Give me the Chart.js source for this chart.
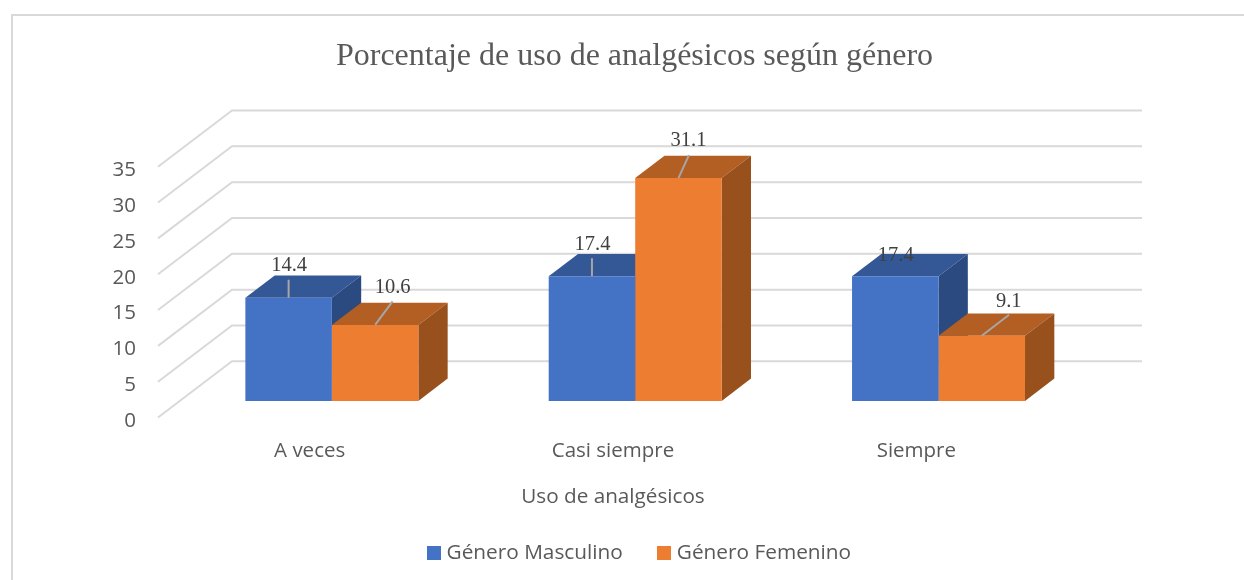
<!DOCTYPE html>
<html><head><meta charset="utf-8">
<style>html,body{margin:0;padding:0;background:#fff}canvas{display:block}</style>
<script src="https://cdn.jsdelivr.net/npm/chart.js@4/dist/chart.umd.min.js"></script>
</head><body><canvas id="c" width="1244" height="580"></canvas>
<script>
const categories = ['A veces', 'Casi siempre', 'Siempre'];
const masculino = [14.4, 17.4, 17.4];
const femenino = [10.6, 31.1, 9.1];
const yTicks = [0, 5, 10, 15, 20, 25, 30, 35];

// Projection of the 3D box drawn by the reference
const FLOOR = {dx: 74, dy: 56.2};
const BAR_SHIFT = {x: 22.2, y: -16.6};
const DEPTH = {dx: 29.3, dy: 22.3};
const FACE = [{top: '#345796', side: '#2b4a80'}, {top: '#b35e22', side: '#98501c'}];
const FRONT = ['#4472c4', '#ed7d31'];
const SANS = '"Open Sans"';
// label centre / leader end relative to the top centre of the front face
const LABEL_OFFSET = [
  [{lx: 0.5, ly: -32.5, ex: 0, ey: -18}, {lx: 0.5, ly: -32, ex: 0, ey: -18}, {lx: 0.5, ly: -20.5, ex: 0, ey: -20.5}],
  [{lx: 17.5, ly: -37.5, ex: 17.5, ey: -23.5}, {lx: 10, ly: -37.5, ex: 10.5, ey: -23}, {lx: 27, ly: -34.5, ex: 27.3, ey: -21}]
];

const swatches = FRONT.map(c => {
  const s = document.createElement('canvas');
  s.width = 14; s.height = 14;
  const g = s.getContext('2d');
  g.fillStyle = c; g.fillRect(0, 0, 14, 14);
  return s;
});

const box3d = {
  id: 'box3d',
  beforeDraw(chart) {
    const {ctx, scales: {y}, chartArea: a} = chart;
    ctx.save();
    ctx.strokeStyle = '#d9d9d9';
    ctx.lineWidth = 2;
    ctx.beginPath();
    ctx.moveTo(12, 580); ctx.lineTo(12, 15); ctx.lineTo(1244, 15);
    ctx.stroke();
    yTicks.forEach(v => {
      const py = y.getPixelForValue(v);
      ctx.beginPath();
      ctx.moveTo(a.left, py);
      ctx.lineTo(a.left + FLOOR.dx, py - FLOOR.dy);
      ctx.lineTo(a.right + FLOOR.dx, py - FLOOR.dy);
      ctx.stroke();
    });
    ctx.restore();
  },
  afterLayout(chart) {
    chart.legend.left += 6.5; chart.legend.right += 6.5;
  },
  beforeDatasetsDraw(chart) {
    const {ctx} = chart;
    ctx.save();
    ctx.translate(BAR_SHIFT.x, BAR_SHIFT.y);
    const poly = (pts, c) => {
      ctx.fillStyle = c; ctx.beginPath();
      pts.forEach((p, i) => i ? ctx.lineTo(p[0], p[1]) : ctx.moveTo(p[0], p[1]));
      ctx.closePath(); ctx.fill();
    };
    chart.data.datasets.forEach((ds, d) => {
      chart.getDatasetMeta(d).data.forEach(el => {
        const l = el.x - el.width / 2, r = el.x + el.width / 2;
        poly([[l, el.y], [r, el.y], [r + DEPTH.dx, el.y - DEPTH.dy], [l + DEPTH.dx, el.y - DEPTH.dy]], FACE[d].top);
        poly([[r, el.y], [r + DEPTH.dx, el.y - DEPTH.dy], [r + DEPTH.dx, el.base - DEPTH.dy], [r, el.base]], FACE[d].side);
      });
    });
  },
  afterDatasetsDraw(chart) {
    const {ctx} = chart;
    chart.data.datasets.forEach((ds, d) => {
      chart.getDatasetMeta(d).data.forEach((el, i) => {
        const o = LABEL_OFFSET[d][i];
        if (o.ey !== o.ly) {
          ctx.strokeStyle = '#a6a6a6'; ctx.lineWidth = 2;
          ctx.beginPath(); ctx.moveTo(el.x, el.y); ctx.lineTo(el.x + o.ex, el.y + o.ey); ctx.stroke();
        }
        ctx.fillStyle = '#404040';
        ctx.font = '20.5px "Liberation Serif"';
        ctx.textAlign = 'center'; ctx.textBaseline = 'middle';
        ctx.fillText(ds.data[i].toFixed(1), el.x + o.lx, el.y + o.ly);
      });
    });
    ctx.restore();
  }
};

new Chart(document.getElementById('c'), {
  type: 'bar',
  data: {
    labels: categories,
    datasets: [
      {label: 'Género Masculino', data: masculino, backgroundColor: FRONT[0], categoryPercentage: 0.5703, barPercentage: 1, clip: false},
      {label: 'Género Femenino', data: femenino, backgroundColor: FRONT[1], categoryPercentage: 0.5703, barPercentage: 1, clip: false}
    ]
  },
  plugins: [box3d],
  options: {
    responsive: false,
    animation: false,
    layout: {padding: {left: 25, right: 0, top: 0, bottom: 7}},
    scales: {
      x: {
        grid: {display: false}, border: {display: false},
        ticks: {color: '#595959', font: {family: SANS, size: 20.5}, padding: 13, maxRotation: 0, autoSkip: false},
        title: {display: true, text: 'Uso de analgésicos', color: '#595959', font: {family: SANS, size: 20.7}, padding: {top: 0, bottom: -6}},
        afterFit(s) { s.height = 86.3; }
      },
      y: {
        min: 0, max: 35,
        grid: {display: false}, border: {display: false},
        ticks: {stepSize: 5, color: '#595959', font: {family: SANS, size: 20.5}, padding: 14, labelOffset: 3.5},
        afterFit(s) { s.width = 133; }
      },
      r: {
        position: 'right', min: 0, max: 35,
        grid: {display: false}, border: {display: false}, ticks: {display: false},
        afterFit(s) { s.width = 176; }
      }
    },
    plugins: {
      tooltip: {enabled: false},
      title: {display: true, text: 'Porcentaje de uso de analgésicos según género', color: '#595959',
        font: {family: '"Liberation Serif"', size: 32, weight: 'normal'}, padding: {top: 37.8, bottom: 90.5}},
      legend: {position: 'bottom', labels: {
        usePointStyle: true, pointStyleWidth: 5.2, boxHeight: 14, padding: 38.4, color: '#595959',
        font: {family: SANS, size: 20.8},
        generateLabels(chart) {
          const items = Chart.defaults.plugins.legend.labels.generateLabels(chart);
          items.forEach((it, i) => { it.pointStyle = swatches[i]; });
          return items;
        }
      }}
    }
  }
});
</script></body></html>
